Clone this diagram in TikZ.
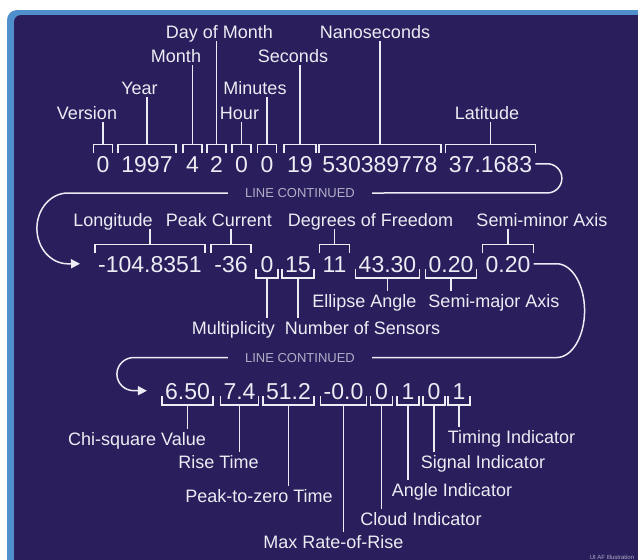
\documentclass[tikz,border=0pt]{standalone}
\usepackage{fontspec}
\setmainfont{Liberation Sans}
\usetikzlibrary{arrows.meta}
\definecolor{navy}{RGB}{42,30,92}
\definecolor{rimblue}{RGB}{79,143,203}
\definecolor{fg}{RGB}{236,236,244}
\definecolor{lcgrey}{RGB}{176,176,200}
% bracket over a field, stem up to its label
\newcommand{\tagabove}[2]{%
  \draw[brk] (#1.north west) -- ([yshift=9pt]#1.north west) -- ([yshift=9pt]#1.north east) -- (#1.north east);
  \draw[brk] ([yshift=9pt]#1.north) -- (#1.north |- #2.south);}
% bracket under a field, stem down to its label
\newcommand{\tagbelow}[2]{%
  \draw[brk] ([yshift=5pt]#1.south west) -- ([yshift=-4pt]#1.south west) -- ([yshift=-4pt]#1.south east) -- ([yshift=5pt]#1.south east);
  \draw[brk] ([yshift=-4pt]#1.south) -- (#1.south |- #2.north);}
\begin{document}
\begin{tikzpicture}[x=1pt, y=-1pt,
    num/.style={font=\fontsize{23}{25}\selectfont, text=fg, anchor=base, text height=16.5pt, text depth=0pt, inner xsep=3pt, inner ysep=2pt},
    lbl/.style={font=\fontsize{18}{20}\selectfont, text=fg, anchor=base, text height=13pt, text depth=0pt, inner xsep=0pt, inner ysep=3pt},
    lcont/.style={font=\fontsize{13}{14}\selectfont, text=lcgrey, text height=9.3pt, text depth=0pt, inner xsep=17pt, inner ysep=0pt},
    brk/.style={draw=fg, line width=1.5pt},
    cont/.style={draw=fg, line width=1.5pt}]
    \useasboundingbox (0,0) rectangle (638,560);
    \clip (0,0) rectangle (638,560);

    % Panel
    \fill[white] (0,0) rectangle (638,560);
    \fill[rimblue, rounded corners=10pt] (7,10) rectangle (660,580);
    \fill[navy, rounded corners=7pt] (14,15) rectangle (660,580);

    % First line of the record
    \foreach \name/\x/\val in {v/103/0, yr/147/1997, mo/192.5/4, dy/216.5/2, hr/241.5/0,
                               mi/267/0, se/300/19, ns/380/530389778, la/490.5/37.1683}
        \node[num] (\name) at (\x,172) {\val};
    \foreach \name/\x/\y/\txt in {lv/87/119/Version, lyr/139.5/94/Year, lmo/176/62/Month,
                                  ldy/219.5/38/Day of Month, lhr/239.5/119/Hour, lmi/255/94/Minutes,
                                  lse/293/62/Seconds, lns/375/38/Nanoseconds, lla/487/119/Latitude}
        \node[lbl] (\name) at (\x,\y) {\txt};
    \foreach \n/\l in {v/lv, yr/lyr, mo/lmo, dy/ldy, hr/lhr, mi/lmi, se/lse, ns/lns, la/lla}
        \tagabove{\n}{\l};

    % Second line
    \foreach \name/\x/\val in {lo/150/-104.8351, pc/231/-36, mu/267/0, nu/298/15, dg/334.5/11,
                               ea/387.5/43.30, sa/451/0.20, sb/508/0.20}
        \node[num, minimum width=22pt] (\name) at (\x,272) {\val};
    \foreach \name/\x/\y/\txt in {llo/113/226/Longitude, lpc/219/226/Peak Current,
                                  ldg/370.5/226/Degrees of Freedom, lsb/542/226/Semi-minor Axis,
                                  lmu/233.5/334/Multiplicity, lnu/362.5/334/Number of Sensors,
                                  lea/364.5/307/Ellipse Angle, lsa/494/307/Semi-major Axis}
        \node[lbl] (\name) at (\x,\y) {\txt};
    \foreach \n/\l in {lo/llo, pc/lpc, dg/ldg, sb/lsb}
        \tagabove{\n}{\l};
    \foreach \n/\l in {mu/lmu, nu/lnu, ea/lea, sa/lsa}
        \tagbelow{\n}{\l};

    % Third line
    \foreach \name/\x/\val in {cs/187.5/6.50, rt/239.5/7.4, pz/288.5/51.2, mr/343.5/-0.0,
                               ci/381.5/0, ai/408/1, si/434/0, ti/459/1}
        \node[num, minimum width=22pt] (\name) at (\x,399) {\val};
    \foreach \name/\x/\y/\txt in {lcs/137/445/Chi-square Value, lrt/218.5/468/Rise Time,
                                  lpz/259/502/Peak-to-zero Time, lmr/333.5/548/Max Rate-of-Rise,
                                  lci/421/525/Cloud Indicator, lai/452/496/Angle Indicator,
                                  lsi/483/468/Signal Indicator, lti/511.5/443/Timing Indicator}
        \node[lbl] (\name) at (\x,\y) {\txt};
    \foreach \n/\l in {cs/lcs, rt/lrt, pz/lpz, mr/lmr, ci/lci, ai/lai, si/lsi, ti/lti}
        \tagbelow{\n}{\l};

    % Line continued
    \node[lcont] (lc1) at (300,193) {LINE CONTINUED};
    \node[lcont] (lc2) at (300,357.5) {LINE CONTINUED};
    \draw[cont] (la.east) -- ++(12,0) arc[start angle=90, end angle=-90, radius=14.6pt] -- (lc1.east);
    \draw[cont, -{Triangle[length=9pt, width=9pt]}] (lc1.west) -- ++(-160,0)
        arc[start angle=90, end angle=270, x radius=31pt, y radius=35.4pt] -- ([xshift=-15pt]lo.west);
    \draw[cont] (sb.east) -- ++(23,0) arc[start angle=90, end angle=-90, x radius=28pt, y radius=46.9pt] -- (lc2.east);
    \draw[cont, -{Triangle[length=9pt, width=9pt]}] (lc2.west) -- ++(-94,0)
        arc[start angle=90, end angle=270, x radius=17pt, y radius=16.6pt] -- ([xshift=-15pt]cs.west);

    \node[font=\fontsize{6}{7}\selectfont, text=lcgrey, anchor=base] (credit) at (612,559) {UI AF Illustration};
\end{tikzpicture}
\end{document}
